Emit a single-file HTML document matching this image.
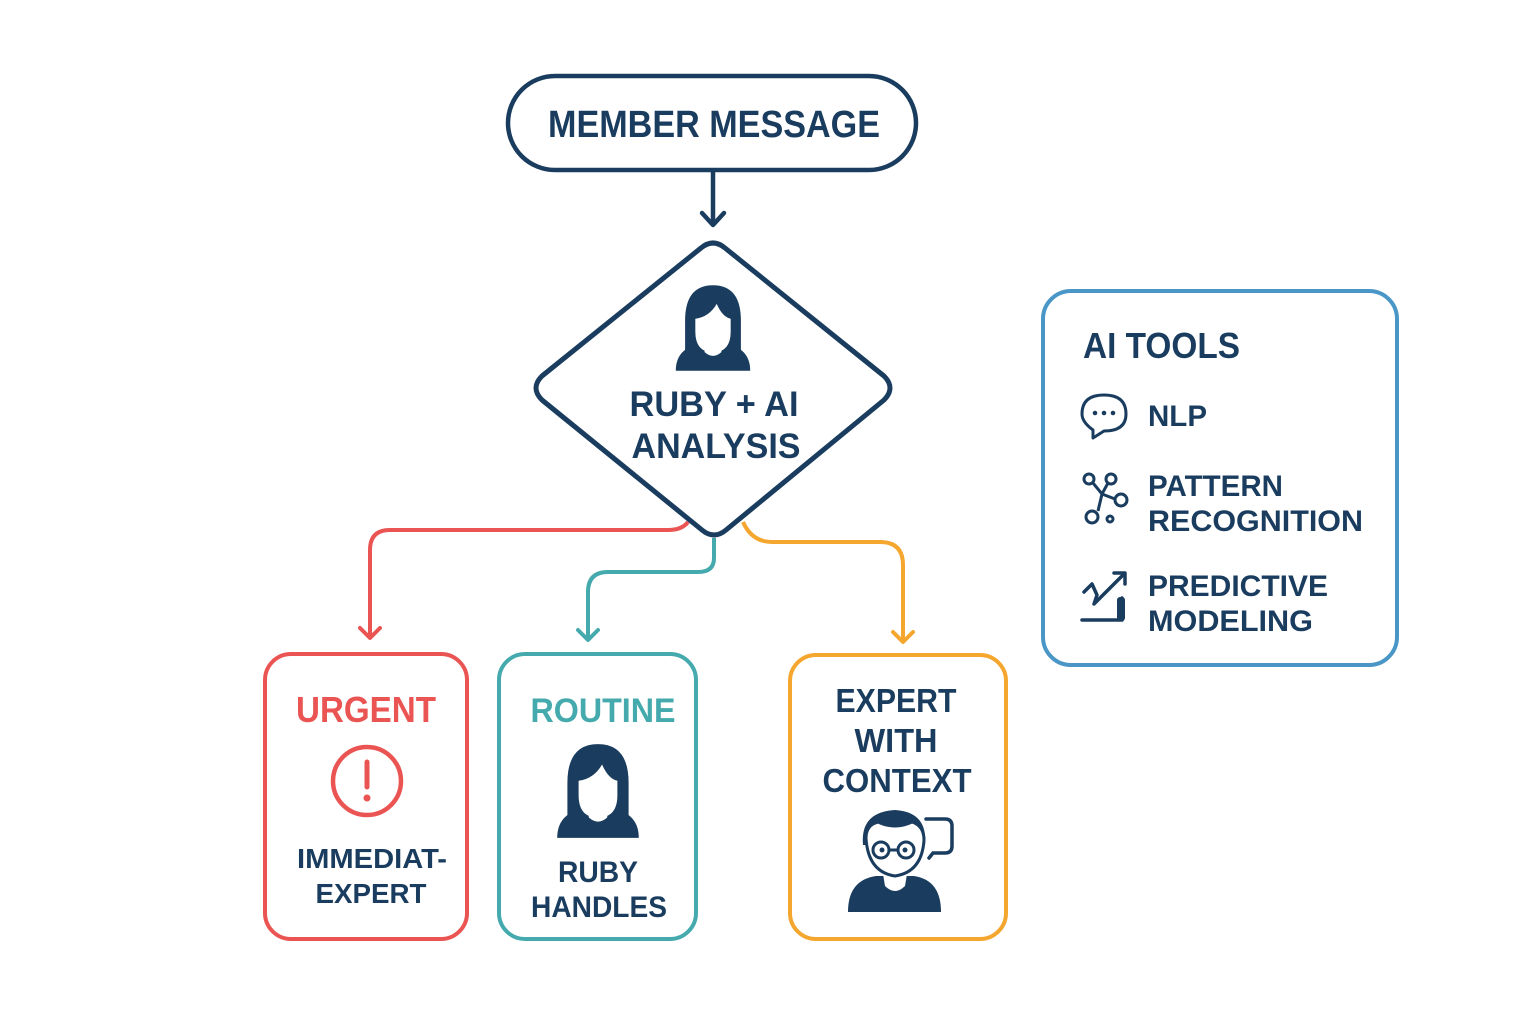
<!DOCTYPE html>
<html><head><meta charset="utf-8"><style>
html,body{margin:0;padding:0;background:#fff;}
svg{display:block;}
text{font-family:"Liberation Sans",sans-serif;font-weight:bold;}
</style></head><body>
<svg width="1536" height="1024" viewBox="0 0 1536 1024" xmlns="http://www.w3.org/2000/svg">
<defs>
<g id="woman">
  <path d="M-30,36 L-30,-8 Q-30,-46 0,-46 Q30,-46 30,-8 L30,36 Z" fill="#1a3d5f"/>
  <path d="M-40,46 Q-40,22 -14,17 L14,17 Q40,22 40,46 Z" fill="#1a3d5f"/>
  <path d="M-10,14 L10,14 L9,26 Q0,34 -9,26 Z" fill="#fff"/>
  <path d="M-19,-10 Q-4,-12 4,-26 Q10,-12 19,-10 L19,4 Q19,26 0,26 Q-19,26 -19,4 Z" fill="#fff"/>
</g>
</defs>

<!-- Member message -->
<rect x="508" y="76" width="408" height="94" rx="47" fill="#fff" stroke="#1a3d5f" stroke-width="4.5"/>
<text x="714" y="137" font-size="38" fill="#1a3d5f" text-anchor="middle" textLength="332" lengthAdjust="spacingAndGlyphs">MEMBER MESSAGE</text>
<line x1="713" y1="171" x2="713" y2="224" stroke="#1a3d5f" stroke-width="4.5"/>
<polyline points="702,213 713,225 724,213" fill="none" stroke="#1a3d5f" stroke-width="4.5" stroke-linecap="round" stroke-linejoin="round"/>

<!-- connectors -->
<path d="M688,522 Q682,530 668,530 L390,530 Q370,530 370,550 L370,636" fill="none" stroke="#ea5452" stroke-width="4"/>
<polyline points="360,628 370,638 380,628" fill="none" stroke="#ea5452" stroke-width="4" stroke-linecap="round" stroke-linejoin="round"/>
<path d="M714,538 L714,558 Q714,572 698,572 L608,572 Q588,572 588,592 L588,638" fill="none" stroke="#45aaad" stroke-width="4"/>
<polyline points="578,630 588,640 598,630" fill="none" stroke="#45aaad" stroke-width="4" stroke-linecap="round" stroke-linejoin="round"/>
<path d="M743,522 Q752,542 772,542 L880,542 Q903,542 903,565 L903,640" fill="none" stroke="#f5a62f" stroke-width="4"/>
<polyline points="893,632 903,642 913,632" fill="none" stroke="#f5a62f" stroke-width="4" stroke-linecap="round" stroke-linejoin="round"/>

<!-- diamond -->
<path d="M701,248 Q713,238 725,248 L884,376 Q896,388 884,400 L726,530 Q714,540 702,530 L542,400 Q530,388 542,376 Z" fill="#fff" stroke="#1a3d5f" stroke-width="5" stroke-linejoin="round"/>
<use href="#woman" transform="translate(713,328) scale(0.93)"/>
<text x="714" y="416" font-size="35" fill="#1a3d5f" text-anchor="middle" textLength="169" lengthAdjust="spacingAndGlyphs">RUBY + AI</text>
<text x="716" y="458" font-size="35" fill="#1a3d5f" text-anchor="middle" textLength="169" lengthAdjust="spacingAndGlyphs">ANALYSIS</text>

<!-- Urgent box -->
<rect x="265" y="654" width="202" height="285" rx="26" fill="#fff" stroke="#ea5452" stroke-width="4"/>
<text x="366" y="722" font-size="36" fill="#ea5452" text-anchor="middle" textLength="140" lengthAdjust="spacingAndGlyphs">URGENT</text>
<circle cx="367" cy="781" r="34" fill="none" stroke="#ea5452" stroke-width="4.5"/>
<line x1="367" y1="762" x2="367" y2="787" stroke="#ea5452" stroke-width="5" stroke-linecap="round"/>
<circle cx="367" cy="798" r="3.5" fill="#ea5452"/>
<text x="372" y="868" font-size="28" fill="#1a3d5f" text-anchor="middle" textLength="150" lengthAdjust="spacingAndGlyphs">IMMEDIAT-</text>
<text x="371" y="903" font-size="28" fill="#1a3d5f" text-anchor="middle" textLength="111" lengthAdjust="spacingAndGlyphs">EXPERT</text>

<!-- Routine box -->
<rect x="499" y="654" width="197" height="285" rx="26" fill="#fff" stroke="#45aaad" stroke-width="4"/>
<text x="603" y="722" font-size="34" fill="#45aaad" text-anchor="middle" textLength="145" lengthAdjust="spacingAndGlyphs">ROUTINE</text>
<use href="#woman" transform="translate(598,791) scale(1.02)"/>
<text x="598" y="882" font-size="30" fill="#1a3d5f" text-anchor="middle" textLength="80" lengthAdjust="spacingAndGlyphs">RUBY</text>
<text x="599" y="917" font-size="30" fill="#1a3d5f" text-anchor="middle" textLength="136" lengthAdjust="spacingAndGlyphs">HANDLES</text>

<!-- Expert box -->
<rect x="790" y="655" width="216" height="284" rx="26" fill="#fff" stroke="#f5a62f" stroke-width="4"/>
<text x="896" y="712" font-size="33" fill="#1a3d5f" text-anchor="middle" textLength="121" lengthAdjust="spacingAndGlyphs">EXPERT</text>
<text x="896" y="752" font-size="33" fill="#1a3d5f" text-anchor="middle" textLength="83" lengthAdjust="spacingAndGlyphs">WITH</text>
<text x="897" y="792" font-size="33" fill="#1a3d5f" text-anchor="middle" textLength="149" lengthAdjust="spacingAndGlyphs">CONTEXT</text>
<g>
  <path d="M848,912 Q848,880 876,876 L914,876 Q941,880 941,912 Z" fill="#1a3d5f"/>
  <path d="M883,874 L907,874 L905,886 Q895,896 885,886 Z" fill="#fff"/>
  <path d="M863,845 Q860,812 895,810 Q928,812 925,845 L918,842 Q910,828 890,826 Q874,830 870,845 Z" fill="#1a3d5f"/>
  <path d="M866,838 Q866,825 878,822 Q895,830 912,822 Q924,826 924,840 Q922,872 895,876 Q868,872 866,838 Z" fill="#fff" stroke="#1a3d5f" stroke-width="3"/>
  <circle cx="881" cy="850" r="8" fill="#fff" stroke="#1a3d5f" stroke-width="3"/>
  <circle cx="906" cy="850" r="8" fill="#fff" stroke="#1a3d5f" stroke-width="3"/>
  <circle cx="882" cy="850" r="2.5" fill="#1a3d5f"/><circle cx="905" cy="850" r="2.5" fill="#1a3d5f"/>
  <line x1="889" y1="850" x2="898" y2="850" stroke="#1a3d5f" stroke-width="3"/>
  <path d="M926,819 L945,819 Q952,819 952,826 L952,846 Q952,853 945,853 L933,853 L929,858" fill="none" stroke="#1a3d5f" stroke-width="3.5" stroke-linecap="round"/>
</g>

<!-- AI tools -->
<rect x="1043" y="291" width="354" height="374" rx="28" fill="#fff" stroke="#4a97c7" stroke-width="4"/>
<text x="1083" y="358" font-size="36" fill="#1a3d5f" textLength="157" lengthAdjust="spacingAndGlyphs">AI TOOLS</text>
<!-- speech icon -->
<path d="M1093,430 Q1082,422 1082,414 Q1082,395 1104,395 Q1126,395 1126,414 Q1126,431 1104,431 L1093,438 Z" fill="none" stroke="#1a3d5f" stroke-width="3" stroke-linejoin="round"/>
<circle cx="1095" cy="413" r="2.3" fill="#1a3d5f"/><circle cx="1104" cy="413" r="2.3" fill="#1a3d5f"/><circle cx="1113" cy="413" r="2.3" fill="#1a3d5f"/>
<text x="1148" y="426" font-size="30" fill="#1a3d5f" textLength="59" lengthAdjust="spacingAndGlyphs">NLP</text>
<!-- network icon -->
<g fill="none" stroke="#1a3d5f" stroke-width="3">
  <circle cx="1089" cy="479" r="5"/><circle cx="1111" cy="479" r="5"/><circle cx="1121" cy="500" r="6"/><circle cx="1092" cy="517" r="6"/><circle cx="1110" cy="519" r="3"/>
  <path d="M1093,483 L1102,494 L1108,483 M1102,494 L1115,499 M1102,494 L1098,511"/>
</g>
<text x="1148" y="496" font-size="30" fill="#1a3d5f" textLength="135" lengthAdjust="spacingAndGlyphs">PATTERN</text>
<text x="1148" y="531" font-size="30" fill="#1a3d5f" textLength="215" lengthAdjust="spacingAndGlyphs">RECOGNITION</text>
<!-- chart icon -->
<g fill="none" stroke="#1a3d5f" stroke-width="3.5" stroke-linecap="round" stroke-linejoin="round">
  <path d="M1084,592 L1092,584 L1097,595 L1094,604 L1124,574"/>
  <path d="M1114,573 L1125,573 L1125,584"/>
  <path d="M1082,620 L1122,620 L1122,598"/>
</g>
<rect x="1117" y="597" width="8" height="24" rx="3" fill="#1a3d5f"/>
<text x="1148" y="596" font-size="30" fill="#1a3d5f" textLength="180" lengthAdjust="spacingAndGlyphs">PREDICTIVE</text>
<text x="1148" y="631" font-size="30" fill="#1a3d5f" textLength="165" lengthAdjust="spacingAndGlyphs">MODELING</text>
</svg>
</body></html>
